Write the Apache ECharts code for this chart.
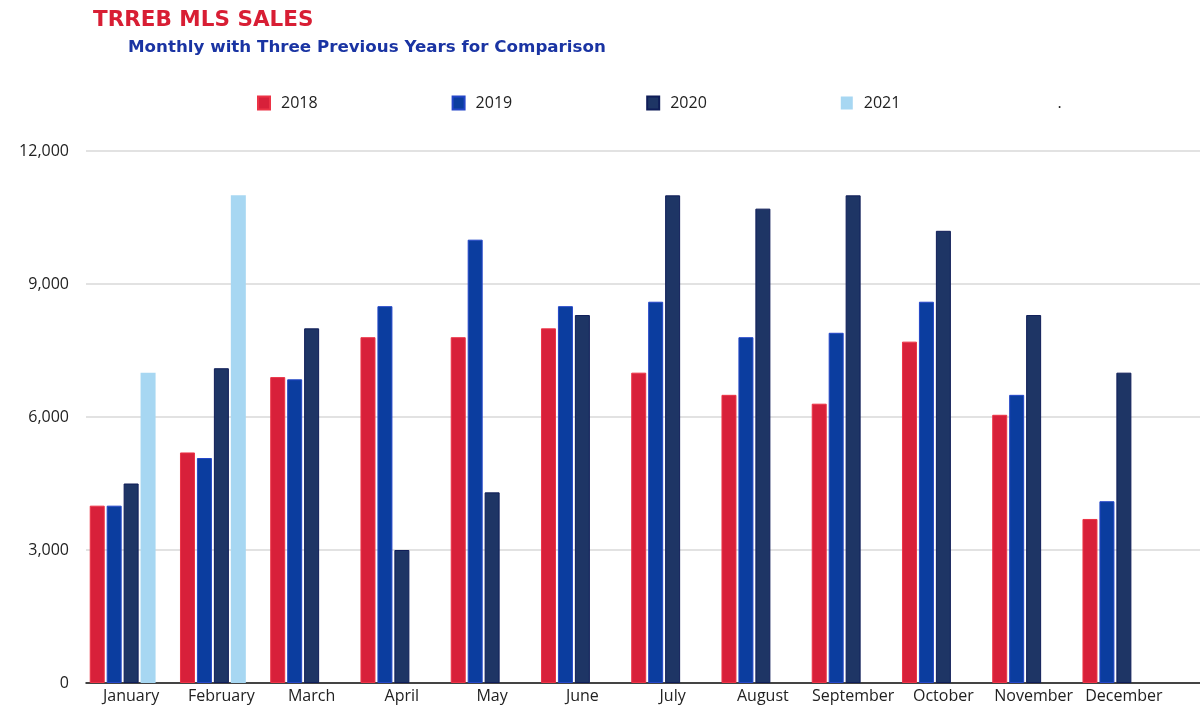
<!DOCTYPE html>
<html>
<head>
<meta charset="utf-8">
<title>TRREB MLS SALES</title>
<script src="https://cdn.jsdelivr.net/npm/echarts@6/dist/echarts.min.js"></script>
<style>
  html, body { margin: 0; padding: 0; background: #fff; }
  #chart { width: 1200px; height: 715px; }
</style>
</head>
<body>
<div id="chart"></div>
<script>
// months on the x axis
const months = ['January', 'February', 'March', 'April', 'May', 'June',
  'July', 'August', 'September', 'October', 'November', 'December']

// monthly sales
const sales2018 = [4000, 5200, 6900, 7800, 7800, 8000, 7000, 6500, 6300, 7700, 6050, 3700]
const sales2019 = [4000, 5075, 6850, 8500, 10000, 8500, 8600, 7800, 7900, 8600, 6500, 4100]
const sales2020 = [4500, 7100, 8000, 3000, 4300, 8300, 11000, 10700, 11000, 10200, 8300, 7000]
const sales2021 = [7000, 11000, null, null, null, null, null, null, null, null, null, null]
// the source had an empty fifth series named '.'
const salesBlank = [null, null, null, null, null, null, null, null, null, null, null, null]

const yTicks = { min: 0, max: 12000, interval: 3000 }

const font = 'Open Sans'
const titleFont = 'DejaVu Sans'

const bar = (name, data, color, border) => ({
  name: name,
  type: 'bar',
  xAxisIndex: 1,
  yAxisIndex: 1,
  data: data,
  barWidth: 15,
  barGap: '13%',
  itemStyle: {
    color: color,
    borderColor: border,
    borderWidth: border ? 1 : 0
  }
})

let chart = echarts.init(document.getElementById('chart'), null, { renderer: 'canvas' })

chart.setOption({
  animation: false,
  backgroundColor: '#fff',
  textStyle: { fontFamily: font },
  title: [
    {
      text: 'TRREB MLS SALES',
      left: 88, top: 4,
      textStyle: { color: '#d81e34', fontSize: 21.5, fontWeight: 'bold', fontFamily: titleFont }
    },
    {
      text: 'Monthly with Three Previous Years for Comparison',
      left: 123, top: 34,
      textStyle: { color: '#1a34a3', fontSize: 16.7, fontWeight: 'bold', fontFamily: titleFont }
    }
  ],
  legend: {
    left: 252, top: 90,
    itemWidth: 12, itemHeight: 13,
    itemGap: 134,
    icon: 'rect',
    textStyle: { color: '#222', fontSize: 16, fontFamily: font, padding: [0, 0, 0, 6] },
    data: ['2018', '2019', '2020', '2021', '.']
  },
  grid: [
    // full width grid, only gridlines and the black baseline
    { left: 86, right: 0, top: 151, bottom: 32 },
    // bar grid, ends a bit before the right edge
    { left: 86, right: 31, top: 151, bottom: 32 }
  ],
  xAxis: [
    {
      type: 'category', gridIndex: 0, data: months,
      axisLine: { lineStyle: { color: '#111', width: 1.5 } },
      axisTick: { show: false },
      axisLabel: { show: false }
    },
    {
      type: 'category', gridIndex: 1, data: months,
      axisLine: { show: false },
      axisTick: { show: false },
      axisLabel: { color: '#222', fontSize: 16, margin: 5, fontFamily: font, interval: 0 }
    }
  ],
  yAxis: [
    {
      type: 'value', gridIndex: 0,
      min: yTicks.min, max: yTicks.max, interval: yTicks.interval,
      axisLine: { show: false },
      axisTick: { show: false },
      axisLabel: {
        color: '#222', fontSize: 16, margin: 17, fontFamily: font,
        formatter: v => v.toLocaleString('en-US')
      },
      splitLine: { lineStyle: { color: '#d9d9d9', width: 1.5 } }
    },
    {
      type: 'value', gridIndex: 1,
      min: yTicks.min, max: yTicks.max, interval: yTicks.interval,
      show: false,
      splitLine: { show: false }
    }
  ],
  series: [
    bar('2018', sales2018, '#d8203a', '#ec3346'),
    bar('2019', sales2019, '#0b3d9f', '#2446c8'),
    bar('2020', sales2020, '#1e3565', '#0f1d58'),
    bar('2021', sales2021, '#a7d7f2', null),
    bar('.', salesBlank, 'rgba(0,0,0,0)', null)
  ]
})
</script>
</body>
</html>
